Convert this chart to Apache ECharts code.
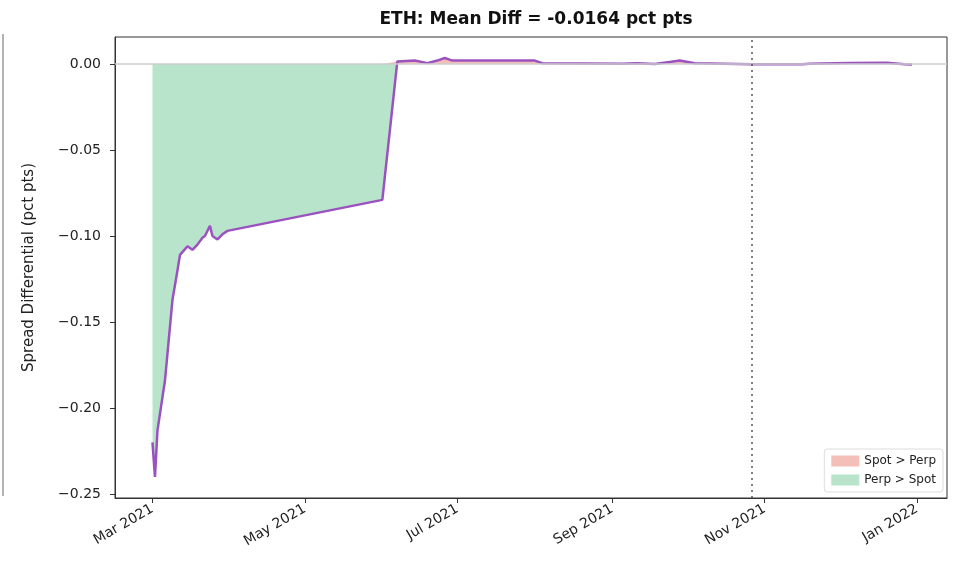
<!DOCTYPE html>
<html lang="en">
<head>
    <meta charset="UTF-8">
    <title>ETH Spread Differential</title>
    <script src="https://cdn.jsdelivr.net/npm/echarts@6/dist/echarts.min.js"></script>
    <style>
        body { margin: 0; background: #fff; }
        #main { width: 961px; height: 573px; }
    </style>
</head>
<body>
<div id="main"></div>
<script type="text/javascript">
    // data
    var dates = ['2021-03-01', '2021-03-02', '2021-03-03', '2021-03-06', '2021-03-09', '2021-03-11',
        '2021-03-12', '2021-03-15', '2021-03-17', '2021-03-19', '2021-03-21', '2021-03-22', '2021-03-24',
        '2021-03-25', '2021-03-27', '2021-03-29', '2021-03-31', '2021-06-01', '2021-06-07', '2021-06-14',
        '2021-06-19', '2021-06-23', '2021-06-26', '2021-06-29', '2021-07-15', '2021-08-01', '2021-08-04',
        '2021-08-20', '2021-09-05', '2021-09-11', '2021-09-18', '2021-09-24', '2021-09-28', '2021-10-04',
        '2021-10-27', '2021-11-16', '2021-11-19', '2021-12-05', '2021-12-20', '2021-12-27', '2021-12-30'];
    var diffs = [-0.220, -0.240, -0.213, -0.184, -0.137, -0.120,
        -0.111, -0.106, -0.108, -0.105, -0.101, -0.100, -0.094,
        -0.100, -0.102, -0.099, -0.097, -0.079, 0.0015, 0.002,
        0.0005, 0.002, 0.0035, 0.002, 0.002, 0.002, 0.0005,
        0.0003, 0.0001, 0.0005, 0.0, 0.0012, 0.002, 0.0005,
        -0.0002, -0.0002, 0.0002, 0.0006, 0.0007, -0.0002, -0.0003];
    var yTicks = [0, -0.05, -0.10, -0.15, -0.20, -0.25];
    var monthNames = ['Jan', 'Feb', 'Mar', 'Apr', 'May', 'Jun', 'Jul', 'Aug', 'Sep', 'Oct', 'Nov', 'Dec'];
    var eventDate = '2021-10-27';

    var lineData = dates.map(function (d, i) { return [d, diffs[i]]; });
    var negData = dates.map(function (d, i) { return [d, Math.min(diffs[i], 0)]; });
    var posData = dates.map(function (d, i) { return [d, Math.max(diffs[i], 0)]; });

    var myChart = echarts.init(document.getElementById('main'));

    var option = {
        backgroundColor: '#fff',
        animation: false,
        title: {
            text: 'ETH: Mean Diff = -0.0164 pct pts',
            left: 531,
            textAlign: 'center',
            top: 6,
            textStyle: { fontFamily: 'DejaVu Sans', fontSize: 17, fontWeight: 'bold', color: '#111' }
        },
        grid: {
            left: 115, right: 14, top: 37, bottom: 75,
            show: true, borderColor: '#333', borderWidth: 1
        },
        legend: {
            right: 18, bottom: 81,
            orient: 'vertical',
            data: ['Spot > Perp', 'Perp > Spot'],
            icon: 'rect',
            itemWidth: 28, itemHeight: 11, itemGap: 7,
            padding: [6, 7],
            borderColor: '#ddd', borderWidth: 1, borderRadius: 3,
            backgroundColor: 'rgba(255,255,255,0.8)',
            textStyle: { fontFamily: 'DejaVu Sans', fontSize: 12, color: '#222' }
        },
        xAxis: {
            type: 'time',
            min: +new Date('2021-02-14'),
            max: +new Date('2022-01-13'),
            splitNumber: 5,
            splitLine: { show: false },
            axisLine: { onZero: false, lineStyle: { color: '#333' } },
            axisTick: { show: true, length: 5, lineStyle: { color: '#333' } },
            minorTick: { show: false },
            axisLabel: {
                rotate: 30,
                margin: 10,
                fontFamily: 'DejaVu Sans', fontSize: 14, color: '#222',
                formatter: function (v) {
                    var d = new Date(v);
                    return monthNames[d.getMonth()] + ' ' + d.getFullYear();
                }
            }
        },
        yAxis: {
            type: 'value',
            min: -0.2523,
            max: 0.0157,
            name: 'Spread Differential (pct pts)',
            nameLocation: 'middle',
            nameGap: 78,
            nameTextStyle: { fontFamily: 'DejaVu Sans', fontSize: 15, color: '#222' },
            splitLine: { show: false },
            axisLine: { show: true, lineStyle: { color: '#333' } },
            axisTick: { show: true, length: 5, customValues: yTicks, lineStyle: { color: '#333' } },
            axisLabel: {
                customValues: yTicks,
                margin: 14,
                fontFamily: 'DejaVu Sans', fontSize: 14, color: '#222',
                formatter: function (v) {
                    var s = Math.abs(v).toFixed(2);
                    return v < -1e-9 ? '\u2212' + s : s;
                }
            }
        },
        graphic: [{
            type: 'line',
            shape: { x1: 3, y1: 34, x2: 3, y2: 496 },
            style: { stroke: '#666', lineWidth: 1 }
        }],
        series: [
            {
                name: 'Spot > Perp',
                type: 'line',
                data: posData,
                symbol: 'none',
                itemStyle: { color: '#f4bfb8' },
                lineStyle: { width: 0 },
                areaStyle: { color: '#f4bfb8', opacity: 1, origin: 0 },
                z: 1
            },
            {
                name: 'Perp > Spot',
                type: 'line',
                data: negData,
                symbol: 'none',
                itemStyle: { color: '#b9e4cc' },
                lineStyle: { width: 0 },
                areaStyle: { color: '#b9e4cc', opacity: 1, origin: 0 },
                z: 1
            },
            {
                name: 'diff',
                type: 'line',
                data: lineData,
                symbol: 'none',
                lineStyle: { color: '#9b52c0', width: 2.5 },
                z: 3,
                markLine: {
                    silent: true,
                    symbol: 'none',
                    label: { show: false },
                    data: [
                        { yAxis: 0, lineStyle: { color: '#ccc', width: 1.5, type: 'solid' } },
                        { xAxis: eventDate, lineStyle: { color: '#555', width: 1.5, type: [2, 4] } }
                    ]
                }
            }
        ]
    };

    myChart.setOption(option);
</script>
</body>
</html>
